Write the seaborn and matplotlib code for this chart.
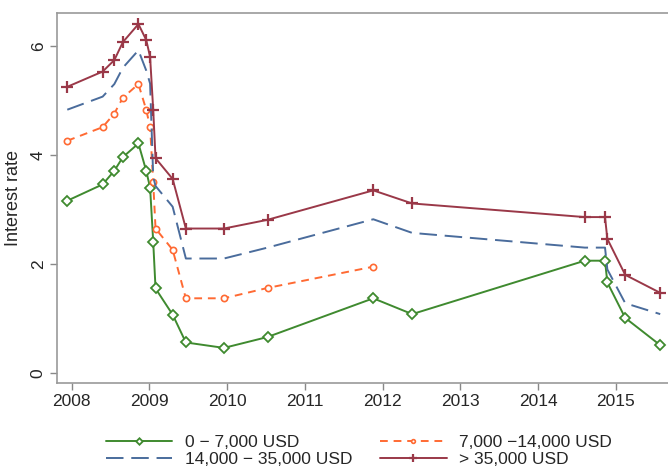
import matplotlib
matplotlib.use("Agg")
import matplotlib.pyplot as plt
import pandas as pd
import seaborn as sns

# decimal years of the rate changes
years = [2007.945, 2008.40, 2008.55, 2008.66, 2008.86, 2008.96, 2009.01, 2009.05,
         2009.08, 2009.30, 2009.47, 2009.96, 2010.52, 2011.88, 2012.38, 2014.60,
         2014.86, 2014.89, 2015.12, 2015.57]

low = [3.16, 3.46, 3.71, 3.96, 4.21, 3.71, 3.40, 2.41, 1.55, 1.07, 0.56, 0.46, 0.66,
       1.37, 1.08, 2.06, 2.06, 1.66, 1.01, 0.51]
mid_low = [4.26, 4.51, 4.76, 5.05, 5.30, 4.83, 4.51, 3.50, 2.65, 2.26, 1.37, 1.37, 1.56,
           1.95]
mid_high = [4.83, 5.07, 5.30, 5.60, 5.92, 5.55, 5.31, 3.60, 3.43, 3.05, 2.10, 2.10, 2.30,
            2.82, 2.57, 2.30, 2.30, 1.90, 1.28, 1.08]
high = [5.25, 5.53, 5.74, 6.07, 6.40, 6.11, 5.80, 4.83, 3.94, 3.56, 2.65, 2.65, 2.81,
        3.35, 3.11, 2.86, 2.86, 2.46, 1.80, 1.47]

labels = ["0 \u2212 7,000 USD", "7,000 \u221214,000 USD",
          "14,000 \u2212 35,000 USD", "> 35,000 USD"]
year_ticks = list(range(2008, 2016))

sns.set_style("white")
plt.rcParams['font.family'] = ['Liberation Sans', 'DejaVu Sans']

fig = plt.figure(figsize=(6.68, 4.72), dpi=100)
ax = fig.add_axes([0.085, 0.189, 0.915, 0.783])

green, orange, blue, red = "#3f8a2f", "#ff6a33", "#4a6c9c", "#9a3848"

sns.lineplot(x=years, y=low, ax=ax, color=green, lw=1.4, marker="D", markersize=5.5,
             markerfacecolor="white", markeredgecolor=green, markeredgewidth=1.3,
             label=labels[0])
sns.lineplot(x=years[:len(mid_low)], y=mid_low, ax=ax, color=orange, lw=1.4,
             dashes=(4, 3), marker="o", markersize=4.5, markerfacecolor="white",
             markeredgecolor=orange, markeredgewidth=1.2, label=labels[1])
sns.lineplot(x=years, y=mid_high, ax=ax, color=blue, lw=1.4, dashes=(9, 4),
             label=labels[2])
sns.lineplot(x=years, y=high, ax=ax, color=red, lw=1.4, marker="+", markersize=9,
             markeredgewidth=1.6, markeredgecolor=red, label=labels[3])

ax.set_xlim(2007.81, 2015.67)
ax.set_ylim(-0.18, 6.6)
ax.set_xticks(year_ticks)
ax.set_yticks([0, 2, 4, 6])
ax.tick_params(axis="both", direction="out", length=5, width=1, color="#888888",
               labelsize=12.5, bottom=True, left=True, pad=3)
for lab in ax.get_yticklabels():
    lab.set_rotation(90)
    lab.set_va("center")
ax.set_ylabel("Interest rate", fontsize=13, labelpad=6)
ax.set_xlabel("")
for side in ["left", "bottom", "top"]:
    ax.spines[side].set_color("#999999")
    ax.spines[side].set_linewidth(1.2)
ax.spines["right"].set_visible(False)

handles, labs = ax.get_legend_handles_labels()
ax.legend_.remove()
order = [0, 2, 1, 3]
fig.legend([handles[i] for i in order], [labs[i] for i in order], loc="upper center",
           bbox_to_anchor=(0.537, 0.105), ncol=2, frameon=False, fontsize=12.5,
           handlelength=3.85, columnspacing=1.6, labelspacing=0.1, handletextpad=0.7,
           borderpad=0.2, markerscale=0.6)

fig.savefig("out.png", dpi=100)
